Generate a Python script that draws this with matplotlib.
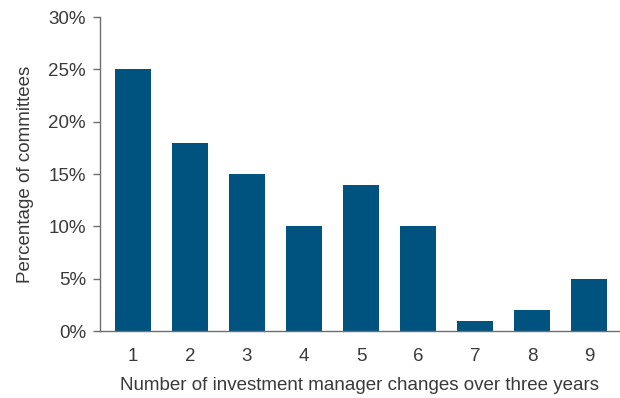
import matplotlib.pyplot as plt
import numpy as np

changes = [1, 2, 3, 4, 5, 6, 7, 8, 9]
pct_committees = [25, 18, 15, 10, 14, 10, 1, 2, 5]
y_ticks = [0, 5, 10, 15, 20, 25, 30]

plt.rcParams['font.family'] = ['Liberation Sans', 'DejaVu Sans']
text_color = '#3a3a3a'
axis_color = '#6e6e6e'
fs = 13.5

fig = plt.figure(figsize=(6.2, 3.98), dpi=100)
ax = fig.add_axes([0.161, 0.168, 0.839, 0.789])

ax.bar(changes, pct_committees, width=0.63, color='#00537f', zorder=2)

ax.set_xlim(0.42, 9.54)
ax.set_ylim(0, 30)
ax.set_yticks(y_ticks)
ax.set_yticklabels([f'{v}%' for v in y_ticks])
ax.set_xticks(changes)

for side in ['top', 'right']:
    ax.spines[side].set_visible(False)
for side in ['left', 'bottom']:
    ax.spines[side].set_color(axis_color)
    ax.spines[side].set_linewidth(1.0)

ax.tick_params(axis='y', length=5, width=1.0, color=axis_color,
               labelsize=fs, labelcolor=text_color, pad=5)
ax.tick_params(axis='x', length=0, labelsize=fs, labelcolor=text_color, pad=12)

ax.set_ylabel('Percentage of committees', fontsize=fs, color=text_color, labelpad=10)
ax.set_xlabel('Number of investment manager changes over three years',
              fontsize=fs, color=text_color, labelpad=9)

fig.savefig('out.png', dpi=100)
